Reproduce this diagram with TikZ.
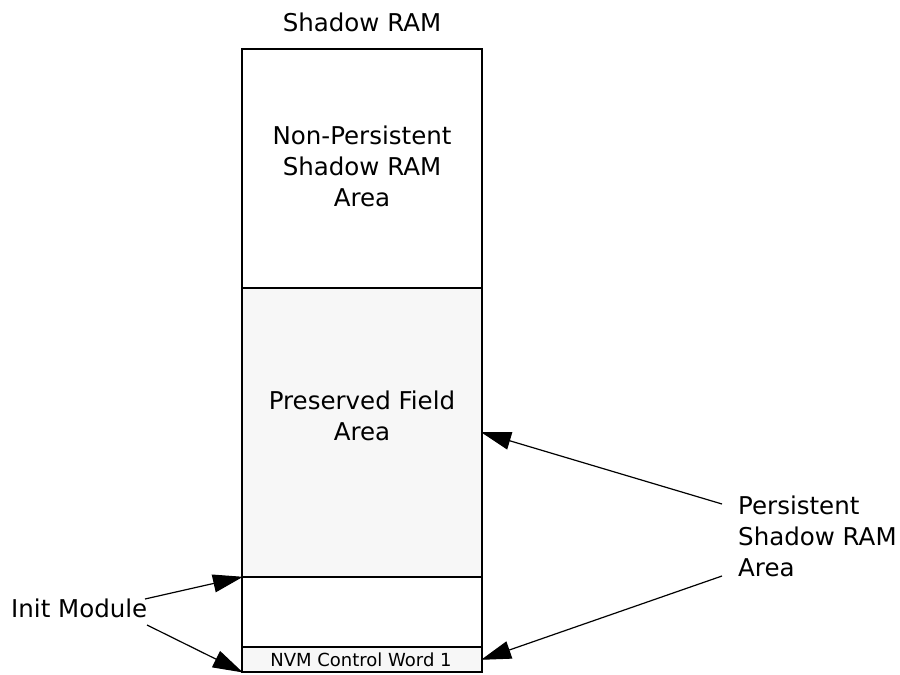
\documentclass[tikz,border=0pt]{standalone}
\usepackage{fontspec}
\setmainfont{DejaVu Sans}
\usetikzlibrary{arrows.meta}
\definecolor{lightfill}{RGB}{247,247,247}
\begin{document}
\begin{tikzpicture}[x=1pt,y=-1pt,
  region/.style={draw=black, line width=2pt, minimum width=240pt, inner sep=0pt, outer sep=0pt, anchor=north west},
  lbl/.style={font=\fontsize{24.5}{31}\selectfont, inner sep=0pt},
  ptr/.style={line width=1.2pt, -{Triangle[length=30pt,width=18pt]}, shorten >=-1pt}
]
\useasboundingbox (0,0) rectangle (900,675);
\fill[white] (0,0) rectangle (900,675);
% regions
\node[region, minimum height=239pt] (np) at (242,49) {};
\node[region, minimum height=289pt, fill=lightfill] (pf) at (242,288) {};
\node[region, minimum height=70pt] (im) at (242,577) {};
\node[region, minimum height=25pt, fill=lightfill] (nvm) at (242,647) {};
% texts
\node[lbl] (title) at (362,22) {Shadow RAM};
\node[lbl, align=center] (nptext) at (362,166) {Non-Persistent\\Shadow RAM\\Area};
\node[lbl, align=center] (pftext) at (362,416) {Preserved Field\\Area};
\node[font=\fontsize{18}{20}\selectfont, inner sep=0pt] (nvmtext) at (361,660) {NVM Control Word 1};
\node[lbl, anchor=west] (initlbl) at (11,608) {Init Module};
\node[lbl, align=left, anchor=west] (perslbl) at (738,536) {Persistent\\Shadow RAM\\Area};
% connector start points
\coordinate (i1) at (145,599);
\coordinate (i2) at (147,625);
\coordinate (p1) at (722,504);
\coordinate (p2) at (722,576);
% connectors
\draw[ptr] (i1) -- (im.north west);
\draw[ptr] (i2) -- (nvm.south west);
\draw[ptr] (p1) -- (pf.east);
\draw[ptr] (p2) -- (nvm.east);
\end{tikzpicture}
\end{document}
